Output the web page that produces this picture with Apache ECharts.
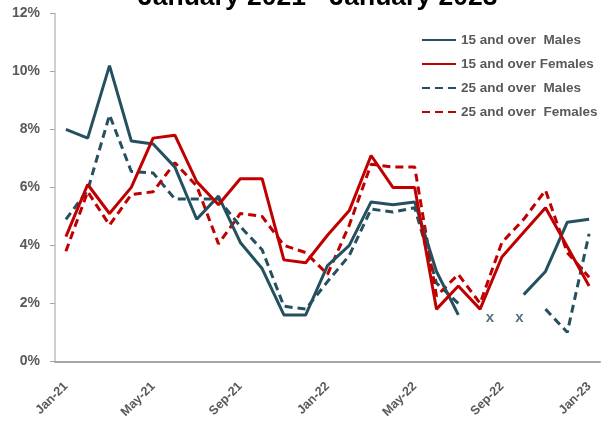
<!DOCTYPE html>
<html>
<head>
<meta charset="utf-8">
<script src="https://cdn.jsdelivr.net/npm/echarts@6/dist/echarts.min.js"></script>
<style>html,body{margin:0;padding:0;background:#fff}#c{width:611px;height:421px}</style>
</head>
<body>
<div id="c"></div>
<script>
var titleText = 'January 2021 - January 2023';
var months = ['Jan-21','Feb-21','Mar-21','Apr-21','May-21','Jun-21','Jul-21','Aug-21','Sep-21','Oct-21','Nov-21','Dec-21',
              'Jan-22','Feb-22','Mar-22','Apr-22','May-22','Jun-22','Jul-22','Aug-22','Sep-22','Oct-22','Nov-22','Dec-22','Jan-23'];
var names = ['15 and over  Males','15 and over Females','25 and over  Males','25 and over  Females'];
var males15   = [8.0,7.7,10.2,7.6,7.5,6.7,4.9,5.7,4.1,3.2,1.6,1.6,3.3,4.0,5.5,5.4,5.5,3.1,1.6,null,null,2.3,3.1,4.8,4.9];
var females15 = [4.3,6.1,5.1,6.0,7.7,7.8,6.2,5.4,6.3,6.3,3.5,3.4,4.35,5.2,7.1,6.0,6.0,1.8,2.6,1.8,3.6,4.45,5.3,3.95,2.6];
var males25   = [4.9,5.9,8.5,6.55,6.5,5.6,5.6,5.6,4.65,3.85,1.9,1.8,2.75,3.65,5.25,5.15,5.3,2.7,2.0,null,null,null,1.8,1.0,4.4];
var females25 = [3.8,5.85,4.7,5.75,5.85,6.85,6.05,4.05,5.1,5.0,4.0,3.75,3.0,4.7,6.8,6.7,6.7,2.25,3.0,2.0,4.1,4.9,5.9,3.75,2.9];
// positions (in months from Jan-21 band start) and level of the "x" missing-data marks
var xMarks = [[19.95,1.5],[21.3,1.5]];

var teal = '#24505F', red = '#C00000', gray = '#595959';
var font = 'Liberation Sans';

var chart = echarts.init(document.getElementById('c'), null, {renderer:'canvas'});
function lineSeries(name, data, color, dashed){
  return {name:name, type:'line', data:data, symbol:'none', connectNulls:false,
    lineStyle:{color:color, width:3, type: dashed ? [8,5] : 'solid'},
    itemStyle:{color:color}, z: dashed ? 2 : 3, animation:false};
}
chart.setOption({
  animation:false,
  title:{text:titleText, left:138, top:-16, padding:0, textStyle:{fontFamily:font, fontSize:26.5, fontWeight:'bold', color:'#000'}},
  legend:{orient:'vertical', left:421, top:33, padding:0, itemWidth:34, itemHeight:14, itemGap:10,
    itemStyle:{color:'rgba(0,0,0,0)', borderColor:'rgba(0,0,0,0)', borderWidth:0},
    textStyle:{fontFamily:font, fontSize:13.5, fontWeight:'bold', color:gray},
    data:names},
  grid:{left:55, right:11, top:13.5, bottom:58.5, containLabel:false},
  xAxis:[{type:'category', data:months, boundaryGap:true,
      axisLine:{lineStyle:{color:'#A6A6A6', width:2}},
      axisTick:{interval:3, length:5, lineStyle:{color:'#8c8c8c', width:1}},
      axisLabel:{interval:3, rotate:45, margin:23, fontFamily:font, fontSize:12.5, fontWeight:'bold', color:gray},
      splitLine:{show:false}},
    {type:'category', data:months, boundaryGap:true, position:'bottom',
      axisLine:{show:false}, axisLabel:{show:false},
      axisTick:{interval:3, inside:true, length:5, lineStyle:{color:'#8c8c8c', width:1}}},
    {type:'value', min:0, max:25, show:false}],
  yAxis:{type:'value', min:0, max:12, interval:2,
    axisLine:{show:true, lineStyle:{color:'#BFBFBF', width:1.5}},
    axisTick:{show:true, length:5, lineStyle:{color:'#A6A6A6'}},
    axisLabel:{margin:15, formatter:'{value}%', fontFamily:font, fontSize:14, fontWeight:'bold', color:gray},
    splitLine:{show:false}},
  series:[
    lineSeries(names[0], males15, teal, false),
    lineSeries(names[1], females15, red, false),
    lineSeries(names[2], males25, teal, true),
    lineSeries(names[3], females25, red, true),
    {type:'scatter', xAxisIndex:2, data:xMarks, symbolSize:1, itemStyle:{color:'rgba(0,0,0,0)'},
      label:{show:true, position:'inside', formatter:'x', fontFamily:font, fontSize:15, fontWeight:'bold', color:teal},
      silent:true}
  ]
});
</script>
</body>
</html>
